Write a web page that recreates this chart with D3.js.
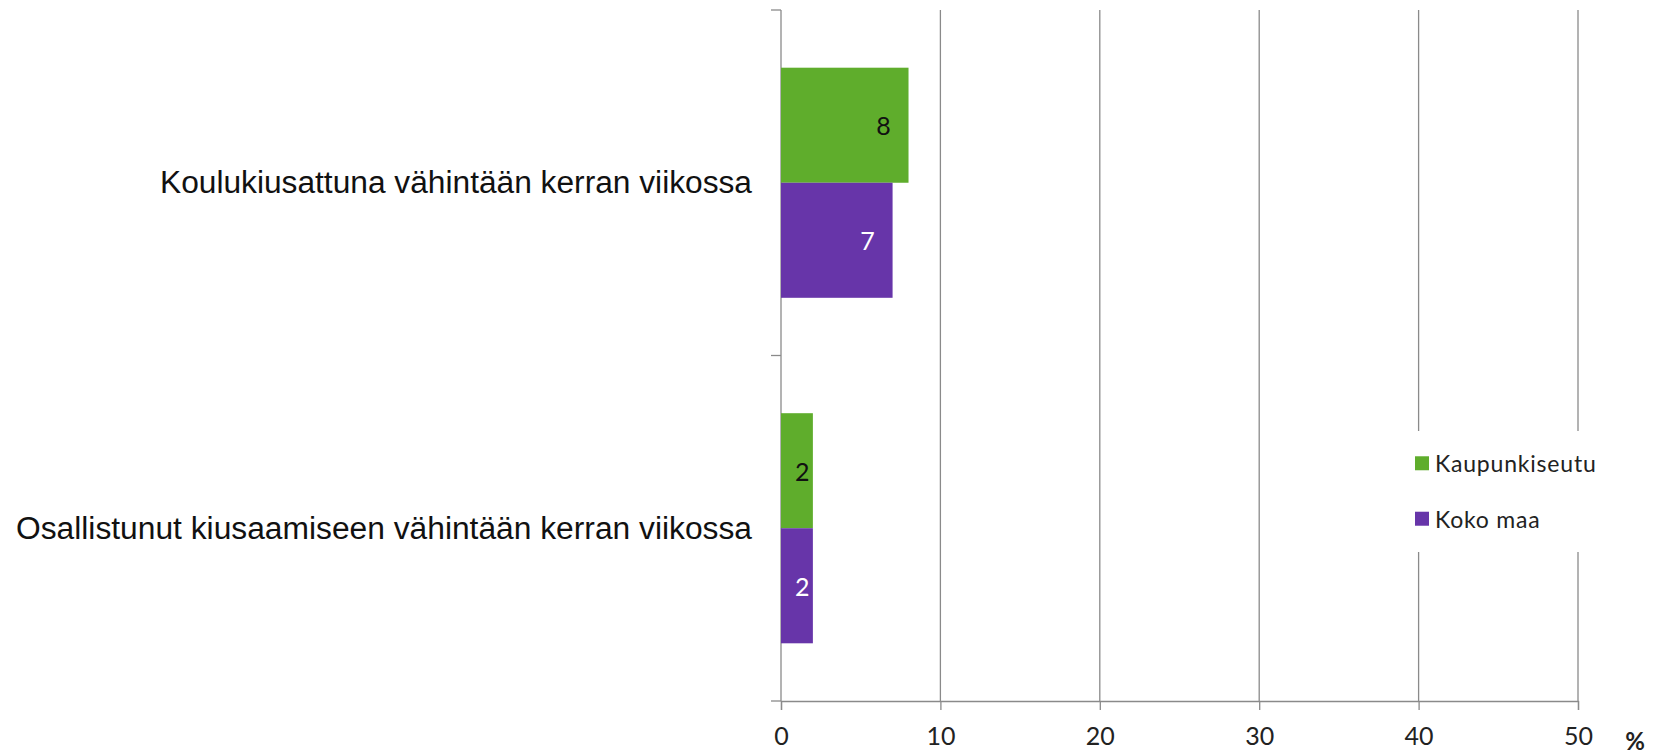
<!DOCTYPE html>
<html><head><meta charset="utf-8">
<script src="https://cdn.jsdelivr.net/npm/d3@7"></script>
<style>body{margin:0;background:#fff}svg{display:block}</style>
</head><body>
<script>
const categories = ["Koulukiusattuna vähintään kerran viikossa", "Osallistunut kiusaamiseen vähintään kerran viikossa"];
const seriesNames = ["Kaupunkiseutu", "Koko maa"];
const kaupunkiseutu = [8, 2];
const kokoMaa = [7, 2];
const xTicks = [0, 10, 20, 30, 40, 50];
const unitLabel = "%";

const colors = ["#5fad2c", "#6735a9"];
const labelColors = ["#111", "#fff"];
const W = 1657, H = 753;
const svg = d3.select("body").append("svg").attr("width", W).attr("height", H);

const x = d3.scaleLinear().domain([0, 50]).range([781, 1578]);
const y = d3.scaleBand().domain(categories).range([10, 701]).paddingInner(0.334).paddingOuter(0.167);
const ySub = d3.scaleBand().domain(seriesNames).range([0, y.bandwidth()]);
const yOuter = d3.scaleBand().domain(categories).range([10, 701]);
const grid = "#8a8a8a";

// gridlines
svg.append("g").selectAll("line").data(xTicks.filter(d => d > 0)).join("line")
  .attr("x1", d => x(d)).attr("x2", d => x(d)).attr("y1", 10).attr("y2", 701)
  .attr("stroke", grid).attr("stroke-width", 1.3);

// x axis
const xAxis = svg.append("g").attr("transform", "translate(0,701)")
  .call(d3.axisBottom(x).tickValues(xTicks).tickSize(9).tickPadding(17));
xAxis.select(".domain").attr("stroke", grid).attr("stroke-width", 1.3);
xAxis.selectAll(".tick line").attr("stroke", grid).attr("stroke-width", 1.3);
xAxis.selectAll("text").attr("font-family", "Lato, 'Open Sans', sans-serif").attr("font-size", 25).attr("fill", "#222");

// y axis line and ticks at category boundaries
const yBounds = [10, ...categories.map(c => yOuter(c) + yOuter.step())];
svg.append("line").attr("x1", x(0)).attr("x2", x(0)).attr("y1", 10).attr("y2", 701)
  .attr("stroke", grid).attr("stroke-width", 1.3);
svg.append("g").selectAll("line").data(yBounds).join("line")
  .attr("x1", x(0) - 10).attr("x2", x(0)).attr("y1", d => d).attr("y2", d => d)
  .attr("stroke", grid).attr("stroke-width", 1.3);

// category labels
const labelWidths = [592, 736];
svg.append("g").selectAll("text").data(categories).join("text")
  .attr("x", 752).attr("y", d => y(d) + y.bandwidth() / 2)
  .attr("text-anchor", "end").attr("dominant-baseline", "central")
  .attr("font-family", "'Liberation Sans', Arial, sans-serif").attr("font-size", 31)
  .attr("textLength", (d, i) => labelWidths[i]).attr("lengthAdjust", "spacingAndGlyphs")
  .attr("fill", "#111").text(d => d);

// bars
const series = [kaupunkiseutu, kokoMaa];
series.forEach((vals, si) => {
  const g = svg.append("g");
  g.selectAll("rect").data(vals).join("rect")
    .attr("x", x(0)).attr("y", (d, i) => y(categories[i]) + ySub(seriesNames[si]))
    .attr("width", d => x(d) - x(0)).attr("height", ySub.bandwidth())
    .attr("fill", colors[si]);
  g.selectAll("text").data(vals).join("text")
    .attr("x", d => x(d) - Math.min(25, (x(d) - x(0)) / 3))
    .attr("y", (d, i) => y(categories[i]) + ySub(seriesNames[si]) + ySub.bandwidth() / 2)
    .attr("text-anchor", "middle").attr("dominant-baseline", "central")
    .attr("font-family", "Lato, 'Open Sans', sans-serif").attr("font-size", 25)
    .attr("fill", labelColors[si]).text(d => d);
});

// unit label
svg.append("text").attr("x", 1635).attr("y", 740).attr("text-anchor", "middle")
  .attr("dominant-baseline", "central").attr("font-family", "Lato, sans-serif")
  .attr("font-weight", "bold").attr("font-size", 24).attr("fill", "#222").text(unitLabel);

// legend
const lg = svg.append("g");
lg.append("rect").attr("x", 1404).attr("y", 431).attr("width", 200).attr("height", 121).attr("fill", "#fff");
const legY = d3.scaleBand().domain(seriesNames).range([430, 552]).padding(0.2);
seriesNames.forEach((n, i) => {
  const cy = legY(n) + legY.bandwidth() / 2;
  lg.append("rect").attr("x", 1415).attr("y", cy - 7).attr("width", 14).attr("height", 14).attr("fill", colors[i]);
  lg.append("text").attr("x", 1435).attr("y", cy).attr("dominant-baseline", "central")
    .attr("font-family", "Lato, 'Open Sans', sans-serif").attr("font-size", 23)
    .attr("letter-spacing", 0.8).attr("fill", "#222").text(n);
});
</script>
</body></html>
